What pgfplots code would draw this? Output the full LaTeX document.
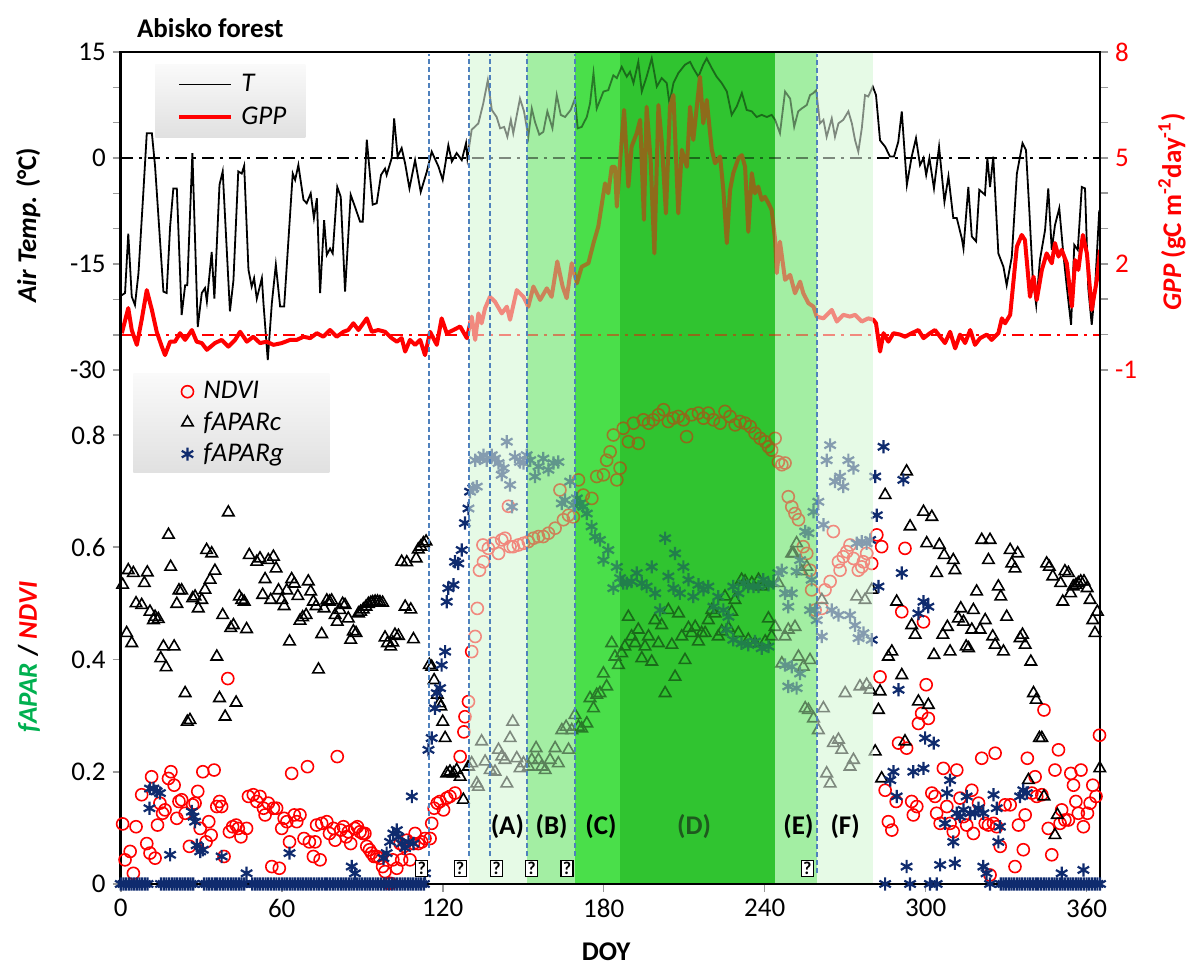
\documentclass[border=0pt]{standalone}
\usepackage{fontspec}
\setmainfont{Carlito}
\usepackage{pgfplots}
\pgfplotsset{compat=1.18}
\definecolor{bandA}{HTML}{E6FAE6}
\definecolor{bandB}{HTML}{A3EEA3}
\definecolor{bandC}{HTML}{4ADF4A}
\definecolor{bandD}{HTML}{30C430}
\definecolor{bandE}{HTML}{A3EEA3}
\definecolor{bandF}{HTML}{E6FAE6}
\definecolor{navyg}{HTML}{0F2B6E}
\definecolor{vblue}{HTML}{4F81BD}
\definecolor{labgreen}{HTML}{00B050}
\definecolor{dlab}{HTML}{1E5A1E}
\newcommand{\fs}{\fontsize{13.5}{15.5}\selectfont}
\pgfplotsset{
  base/.style={
    scale only axis, width=489.65pt, height=416pt,
    xmin=0, xmax=365,
    tick align=outside, major tick length=4pt, minor tick length=4pt,
    tick style={gray!80, line width=0.8pt},
    axis line style={line width=1.25pt, black},
    tick label style={font=\fs},
    /pgf/number format/assume math mode=true,
  }
}
\begin{document}
\begin{tikzpicture}
% ---------------- top panel: air temperature ----------------
\begin{axis}[base,
  hide x axis, axis y line*=left,
  ymin=-102.7, ymax=15,
  ytick={-30,-15,0,15}, minor ytick={-25,-20,-10,-5,5,10},
  legend style={at={(0.035,0.9856)}, anchor=north west, draw=none,
    top color=black!2, bottom color=black!12, font=\fs,
    inner xsep=3pt, inner ysep=3pt, row sep=2pt, legend cell align=left},
  legend image code/.code={\pgfpathrectangle{\pgfpoint{0pt}{-1pt}}{\pgfpoint{38pt}{2pt}}\pgfusepath{use as bounding box}\draw[#1] (9pt,0pt) -- (35pt,0pt);},
]
\fill[bandA] (axis cs:129.8,-102.7) rectangle (axis cs:151.4,15);
\fill[bandB] (axis cs:151.4,-102.7) rectangle (axis cs:169.3,15);
\fill[bandC] (axis cs:169.3,-102.7) rectangle (axis cs:186.1,15);
\fill[bandD] (axis cs:186.1,-102.7) rectangle (axis cs:243.9,15);
\fill[bandE] (axis cs:243.9,-102.7) rectangle (axis cs:259.5,15);
\fill[bandF] (axis cs:259.5,-102.7) rectangle (axis cs:280.4,15);
\addplot[forget plot, black, line width=0.9pt, dash pattern=on 6pt off 3pt on 1.5pt off 3pt] coordinates {(0,0) (365,0)};
\addplot[black, line width=0.9pt] table {
0.4 -19.4
1.6 -19.1
2.8 -10.7
4.1 -19.6
5.3 -20.8
6.6 -16.3
8.4 -5.0
9.7 3.5
11.6 3.5
12.8 -1.2
15.9 -18.9
17.1 -19.1
18.4 -9.7
19.6 -4.3
20.9 -4.3
22.7 -22.2
24.0 -18.0
24.8 -18.0
26.7 0.7
28.7 -23.9
30.2 -19.1
31.4 -18.4
32.1 -20.3
33.9 -13.3
34.9 -19.9
36.8 -3.8
38.0 -1.9
40.7 -21.7
42.0 -17.3
43.8 -1.9
45.1 -2.2
46.0 -1.1
47.6 -15.8
48.8 -18.2
49.7 -17.0
50.7 -19.9
52.6 -17.0
53.2 -20.6
54.8 -28.6
56.3 -20.6
57.8 -15.1
59.4 -21.0
60.9 -21.0
62.5 -11.6
64.1 -2.2
65.0 -3.1
66.2 -1.0
68.1 -5.9
69.3 -6.4
70.8 -5.0
72.0 -8.5
73.1 -5.7
74.3 -19.1
75.8 -8.8
76.8 -13.7
78.0 -12.8
79.0 -13.5
80.7 -4.1
82.0 -5.5
83.6 -18.9
85.7 -5.2
87.3 -6.9
89.2 -9.0
90.2 -9.0
91.7 2.6
93.9 -6.6
95.4 -6.4
97.0 -2.4
98.5 -1.5
99.1 -2.4
101.0 0.0
101.9 5.6
103.2 0.2
104.7 1.4
106.0 -0.8
107.6 -4.3
109.7 -0.3
111.8 -4.8
114.1 -1.9
115.9 0.9
118.4 -1.2
120.0 -3.1
122.1 1.8
123.4 -0.5
125.2 0.7
127.1 -0.3
128.7 2.1
129.2 0.0
130.8 4.0
133.3 4.9
135.1 7.7
136.8 11.0
138.3 6.8
140.1 5.8
141.4 4.2
142.9 4.4
144.1 3.0
145.4 5.4
146.3 3.5
148.8 8.4
150.3 6.6
151.9 3.0
153.2 7.0
154.4 5.1
156.0 3.3
157.5 3.7
159.0 6.6
160.9 4.2
162.5 8.9
164.0 6.1
165.6 5.8
167.7 6.8
169.3 8.4
170.3 4.2
171.8 4.4
173.7 5.8
174.9 7.7
176.2 12.0
177.4 7.0
179.9 9.4
181.7 9.6
183.6 11.7
184.9 11.3
186.7 12.9
188.6 11.5
189.8 12.2
191.1 10.6
192.9 13.6
194.2 9.4
196.0 11.5
197.9 14.1
199.8 10.1
201.6 11.3
203.5 10.6
204.5 7.7
206.0 10.6
207.8 12.0
210.3 13.2
212.2 13.6
213.4 12.7
215.3 11.5
217.1 13.2
218.4 14.1
220.3 12.7
222.1 11.5
224.0 10.6
225.9 9.4
227.7 6.1
229.6 7.3
231.5 9.2
233.3 6.8
235.2 6.6
237.0 5.8
238.9 6.1
240.8 5.8
242.6 6.1
243.9 5.4
245.7 3.5
247.6 9.4
249.5 8.4
251.0 4.4
252.5 6.6
253.8 7.0
255.7 7.5
256.9 8.9
258.2 9.2
259.2 9.6
260.6 4.9
261.9 5.4
263.1 3.0
265.0 5.6
266.2 3.0
267.5 4.9
269.3 5.4
271.2 6.6
272.5 4.9
273.7 2.5
274.9 0.9
276.2 4.2
277.4 8.9
278.6 8.7
280.3 10.1
281.5 8.9
283.0 2.5
284.9 1.6
286.7 0.2
288.2 0.2
289.8 2.3
291.1 6.6
293.0 -3.8
294.8 0.2
296.4 2.8
297.9 -1.0
299.2 0.0
300.2 -2.4
301.4 0.0
303.1 -4.3
305.0 1.6
307.0 -6.2
308.5 -2.6
310.3 -8.5
311.6 -8.5
313.5 -11.4
314.1 -12.8
315.9 -4.1
317.2 -11.1
318.8 -11.8
320.0 -4.5
322.1 -5.2
323.0 0.0
324.0 -4.1
325.2 0.2
327.1 -13.5
329.0 -15.4
330.2 -18.0
332.1 -14.0
334.0 -2.2
336.1 2.1
337.4 1.1
338.7 -7.8
339.9 -16.8
341.2 -20.8
342.6 -14.4
344.5 -10.2
345.7 -4.3
347.0 -13.0
348.2 -9.5
349.8 -7.1
351.3 -13.5
352.6 -18.2
354.2 -23.6
355.4 -12.3
356.7 -13.0
358.2 -4.1
359.4 -4.3
360.6 -18.4
361.9 -23.6
363.1 -18.7
364.7 -7.4
};
\addlegendentry{\makebox[27pt][l]{\textit{T}}}
\addlegendimage{red, line width=2.2pt}
\addlegendentry{\makebox[27pt][l]{\textit{GPP}}}
\end{axis}
% ---------------- top panel: GPP (right axis) ----------------
\begin{axis}[base,
  hide x axis, axis y line*=right,
  ymin=-15.55, ymax=8,
  ytick={-1,2,5,8}, minor ytick={0,1,3,4,6,7},
  yticklabel style={red},
]
\addplot[red, line width=0.9pt, dash pattern=on 6pt off 3pt on 1.5pt off 3pt] coordinates {(0,0) (365,0)};
\addplot[red, line width=2pt, line join=round] table {
0.4 0.04
2.8 0.75
4.1 0.13
6.0 -0.29
7.8 0.42
9.7 1.26
11.6 0.70
13.4 0.08
15.3 -0.34
16.5 -0.58
18.4 -0.20
20.2 -0.20
22.1 0.04
24.0 -0.15
26.5 0.13
28.3 -0.20
30.2 -0.24
32.1 -0.43
35.1 -0.24
37.6 -0.15
40.1 -0.34
42.6 -0.15
44.5 0.08
47.0 -0.20
49.4 -0.06
51.9 -0.24
54.4 -0.20
56.9 -0.29
60.0 -0.24
63.1 -0.15
65.6 -0.15
68.1 -0.06
70.6 -0.10
73.1 0.04
75.5 -0.06
78.0 0.13
80.5 -0.06
83.0 0.08
84.8 0.13
86.7 0.32
88.6 0.13
91.7 0.46
93.6 0.08
96.0 0.13
98.5 0.08
101.0 -0.10
102.9 -0.20
104.7 -0.10
106.0 -0.48
107.8 -0.15
109.7 -0.29
111.6 -0.15
113.4 -0.58
115.3 0.08
117.8 -0.29
119.6 0.46
121.5 0.04
124.0 0.13
126.5 0.23
129.0 -0.10
130.8 0.51
132.1 -0.15
133.3 0.60
134.5 0.32
135.8 0.75
137.6 1.07
139.5 0.93
142.0 0.60
143.9 0.79
145.1 0.42
147.6 1.26
150.1 1.07
151.9 0.79
153.8 1.36
156.3 0.98
158.8 1.31
160.6 1.07
162.7 2.07
164.7 1.36
166.2 1.03
168.1 2.02
170.0 1.45
171.8 1.92
174.3 2.02
176.2 2.59
178.0 3.06
180.5 4.28
181.7 4.00
183.0 4.75
184.2 4.75
184.9 3.62
186.7 5.51
187.6 6.36
189.2 4.19
190.4 5.32
192.3 5.70
193.6 6.08
195.0 3.25
196.0 6.45
197.5 4.94
198.9 2.30
200.4 6.50
201.6 5.51
203.2 3.43
204.7 6.45
206.0 6.78
207.8 3.43
209.1 5.23
211.0 4.75
212.2 6.45
213.4 5.51
214.7 6.45
215.9 7.30
217.1 5.98
218.4 6.64
220.3 5.23
221.5 4.85
223.4 5.04
224.6 4.09
225.9 2.59
227.1 4.09
228.3 4.57
230.2 4.99
231.5 5.08
232.7 4.75
233.9 2.91
235.2 4.57
236.4 4.00
237.6 4.19
238.9 3.81
240.1 3.90
241.4 3.72
242.6 3.53
243.9 2.68
244.5 1.74
245.7 2.63
247.6 1.55
249.5 1.69
251.3 1.17
253.2 1.50
254.4 1.17
256.3 0.89
258.2 0.79
259.4 0.51
261.9 0.46
265.0 0.70
266.9 0.37
269.3 0.56
271.8 0.51
273.7 0.56
276.2 0.37
278.6 0.46
280.5 0.42
281.5 0.32
283.0 -0.48
284.3 0.04
286.1 -0.20
288.0 0.04
290.5 0.00
292.3 -0.06
294.8 0.04
297.3 0.13
299.2 -0.10
301.6 0.04
303.5 0.13
305.4 -0.06
307.2 -0.24
309.1 0.08
311.0 -0.39
312.8 0.00
314.7 -0.24
316.6 0.13
318.4 -0.29
320.3 -0.10
322.8 0.00
324.6 -0.15
327.1 0.04
328.4 0.46
329.6 0.32
331.5 0.56
334.0 2.49
335.8 2.82
337.0 2.68
338.9 1.07
340.2 1.64
341.4 0.98
343.3 1.83
345.1 2.30
347.0 2.02
348.2 2.59
349.5 2.21
350.7 2.40
352.6 2.02
354.5 0.79
355.7 2.11
356.9 1.83
358.6 2.82
360.1 2.30
361.9 0.70
363.8 1.55
365.0 2.40
};
\end{axis}
% ---------------- bottom panel: fAPAR / NDVI ----------------
\begin{axis}[base,
  axis on top, clip=false,
  ymin=0, ymax=1.4824,
  xtick={0,60,...,360}, xtick pos=left, ytick pos=left,
  ytick={0,0.2,0.4,0.6,0.8}, yticklabels={0,0.2,0.4,0.6,0.8},
  legend style={at={(0.0126,0.614)}, anchor=north west, draw=none,
    top color=black!2, bottom color=black!12, font=\fs,
    inner xsep=3pt, inner ysep=2pt, row sep=1pt, legend cell align=left},
  legend image code/.code={\pgfpathrectangle{\pgfpoint{0pt}{-3pt}}{\pgfpoint{30pt}{6pt}}\pgfusepath{use as bounding box}\draw[#1] plot coordinates {(24pt,0pt)};},
]
\addplot[only marks, red, mark=o, mark size=3pt, mark options={line width=0.8pt}] table {
0.7 0.107
1.6 0.043
3.5 0.058
4.7 0.019
5.7 0.102
7.8 0.159
9.7 0.072
10.9 0.055
11.5 0.191
12.8 0.046
13.7 0.105
14.6 0.144
15.6 0.126
16.5 0.132
17.8 0.188
18.7 0.200
19.9 0.176
20.9 0.117
21.7 0.147
22.7 0.150
24.0 0.126
25.6 0.067
26.8 0.141
27.7 0.144
28.7 0.165
29.6 0.099
30.6 0.200
31.8 0.075
32.8 0.111
33.7 0.087
34.8 0.203
35.8 0.138
36.8 0.147
37.6 0.138
38.5 0.049
39.9 0.366
40.5 0.093
41.7 0.102
43.0 0.105
43.8 0.099
44.8 0.084
46.9 0.099
47.6 0.156
49.4 0.159
50.7 0.147
51.9 0.156
53.2 0.135
53.8 0.123
55.0 0.144
56.3 0.031
56.9 0.135
58.1 0.135
59.1 0.028
60.0 0.099
60.9 0.117
61.9 0.111
62.9 0.075
63.7 0.197
64.7 0.123
65.6 0.111
66.8 0.123
68.3 0.081
69.6 0.209
70.3 0.075
71.8 0.049
72.4 0.075
73.0 0.105
74.3 0.043
74.9 0.108
76.8 0.111
77.8 0.090
79.3 0.099
79.9 0.078
80.7 0.227
82.0 0.096
83.0 0.102
84.0 0.084
84.8 0.093
85.7 0.072
87.3 0.099
88.2 0.102
89.2 0.093
90.2 0.090
91.0 0.090
91.7 0.067
92.7 0.061
93.5 0.055
94.4 0.049
95.4 0.049
96.6 0.046
97.6 0.031
98.5 0.022
99.8 0.001
100.6 0.001
101.4 0.043
102.9 0.028
104.1 0.072
104.7 0.043
105.6 0.067
106.6 0.078
107.8 0.043
109.1 0.072
109.7 0.090
110.9 0.072
112.2 0.075
113.4 0.081
115.3 0.081
115.9 0.108
116.8 0.135
118.0 0.144
119.0 0.147
120.3 0.132
121.5 0.153
122.7 0.156
124.6 0.162
126.5 0.227
127.9 0.271
128.3 0.298
129.6 0.325
130.8 0.414
132.1 0.441
132.9 0.491
133.7 0.559
135.2 0.574
135.0 0.604
137.0 0.598
138.9 0.607
140.8 0.589
142.0 0.613
143.2 0.616
144.5 0.673
145.1 0.601
146.3 0.601
148.2 0.604
150.1 0.607
151.9 0.610
153.8 0.616
155.7 0.619
157.5 0.619
159.4 0.625
161.9 0.634
163.7 0.702
165.0 0.649
166.9 0.657
168.7 0.654
170.6 0.720
172.4 0.693
175.6 0.687
177.4 0.726
179.9 0.729
181.1 0.755
182.4 0.770
183.6 0.800
184.9 0.720
186.1 0.741
187.3 0.812
189.2 0.788
191.1 0.821
192.9 0.785
194.8 0.827
196.7 0.821
198.5 0.827
200.4 0.836
202.3 0.845
204.1 0.824
206.0 0.830
207.8 0.833
209.7 0.827
210.9 0.797
212.8 0.836
215.3 0.839
217.2 0.830
219.0 0.839
220.9 0.827
223.4 0.821
225.2 0.842
227.1 0.833
229.0 0.818
230.8 0.824
232.7 0.821
234.6 0.815
236.4 0.803
238.3 0.794
240.2 0.788
241.4 0.779
242.6 0.773
243.9 0.794
245.1 0.752
246.4 0.747
247.6 0.750
248.8 0.690
250.1 0.672
251.3 0.660
252.6 0.649
254.4 0.601
255.7 0.589
256.9 0.559
257.5 0.524
258.8 0.488
261.3 0.491
262.5 0.524
264.4 0.539
265.6 0.628
267.5 0.574
268.1 0.559
269.3 0.583
270.6 0.592
271.8 0.604
273.1 0.580
274.9 0.559
276.2 0.565
276.8 0.574
278.0 0.589
279.9 0.571
281.8 0.622
283.6 0.601
283.0 0.369
284.9 0.167
286.1 0.111
287.4 0.096
289.0 0.147
289.9 0.251
291.1 0.485
292.3 0.598
292.9 0.242
294.8 0.147
295.4 0.123
296.7 0.138
297.3 0.286
298.5 0.304
299.2 0.467
300.2 0.355
301.0 0.295
302.3 0.162
303.5 0.156
304.1 0.126
305.4 0.108
306.6 0.206
307.9 0.138
309.1 0.108
310.3 0.093
311.6 0.203
312.8 0.153
314.1 0.120
315.3 0.105
317.2 0.167
317.8 0.090
319.7 0.144
320.9 0.224
322.2 0.108
323.4 0.105
324.0 0.016
325.3 0.108
325.9 0.233
326.5 0.102
327.8 0.067
329.6 0.141
331.5 0.141
333.3 0.031
334.6 0.105
336.4 0.061
337.1 0.123
337.9 0.224
339.6 0.162
340.8 0.191
341.4 0.156
343.3 0.159
344.1 0.310
345.7 0.099
347.0 0.052
348.2 0.203
349.5 0.239
350.1 0.108
350.7 0.132
351.9 0.114
353.2 0.114
354.1 0.197
355.1 0.176
356.0 0.147
356.9 0.126
357.9 0.203
358.8 0.102
360.3 0.126
361.3 0.144
362.3 0.176
363.5 0.156
364.8 0.265
};
\addlegendentry{\makebox[58pt][l]{\textit{NDVI}}}
\addplot[only marks, black, mark=triangle, mark size=3.3pt, mark options={line width=0.8pt}] table {
0.7 0.533
2.2 0.447
2.8 0.559
4.1 0.429
4.7 0.554
5.7 0.500
7.8 0.497
8.8 0.536
9.9 0.555
10.9 0.485
12.2 0.470
12.8 0.476
14.0 0.472
14.9 0.402
15.9 0.423
16.9 0.386
17.8 0.622
18.6 0.565
19.9 0.423
20.9 0.499
21.7 0.523
22.7 0.523
24.0 0.340
24.8 0.289
25.8 0.292
26.8 0.509
27.7 0.512
28.9 0.491
30.2 0.506
31.4 0.524
32.0 0.595
33.3 0.542
33.9 0.589
35.1 0.558
35.8 0.405
36.8 0.331
38.0 0.479
38.9 0.298
40.1 0.662
41.0 0.456
42.0 0.461
43.0 0.323
44.2 0.512
45.1 0.506
46.0 0.503
46.9 0.454
47.9 0.586
50.7 0.574
51.9 0.580
52.9 0.515
53.8 0.543
55.0 0.577
55.9 0.506
56.9 0.583
57.9 0.562
58.8 0.523
60.0 0.506
60.9 0.495
61.9 0.523
62.9 0.432
63.7 0.543
64.7 0.535
66.0 0.513
66.8 0.469
67.8 0.475
69.1 0.479
69.9 0.539
70.8 0.521
71.8 0.503
72.8 0.495
73.7 0.382
74.9 0.445
75.8 0.491
76.8 0.505
77.8 0.503
78.6 0.505
79.9 0.479
80.7 0.467
81.7 0.488
82.7 0.499
83.6 0.497
84.8 0.473
85.7 0.435
86.7 0.450
87.7 0.447
88.6 0.482
89.4 0.485
90.4 0.489
91.4 0.494
92.3 0.499
93.2 0.501
93.9 0.502
94.8 0.503
95.7 0.503
96.6 0.502
97.6 0.501
98.5 0.439
99.4 0.429
100.6 0.423
101.4 0.430
102.2 0.444
103.5 0.442
104.7 0.574
106.0 0.494
106.6 0.573
108.1 0.489
109.1 0.436
110.1 0.580
110.9 0.596
111.8 0.601
112.8 0.607
113.8 0.610
115.0 0.390
115.9 0.387
116.8 0.363
118.0 0.337
118.8 0.322
119.3 0.316
120.0 0.289
120.9 0.260
121.5 0.197
122.7 0.200
124.0 0.197
125.2 0.203
126.5 0.191
127.7 0.150
129.6 0.209
130.8 0.215
132.7 0.179
133.3 0.173
134.5 0.254
135.8 0.218
137.7 0.203
139.5 0.200
140.8 0.239
142.0 0.227
143.2 0.221
143.9 0.179
145.1 0.260
146.1 0.289
147.6 0.224
148.8 0.206
150.1 0.215
152.0 0.209
153.2 0.221
154.8 0.242
155.7 0.221
156.9 0.209
158.2 0.203
160.0 0.221
161.9 0.242
163.1 0.215
164.4 0.274
166.0 0.280
166.9 0.239
168.1 0.274
169.3 0.301
170.6 0.280
171.8 0.277
173.7 0.286
174.9 0.331
176.2 0.313
177.4 0.337
178.6 0.340
179.9 0.375
181.1 0.352
183.0 0.429
184.2 0.405
185.5 0.390
186.7 0.411
187.9 0.423
189.2 0.476
190.4 0.441
191.7 0.429
192.9 0.453
194.2 0.402
195.4 0.423
196.7 0.441
197.9 0.396
199.1 0.470
200.4 0.429
201.6 0.461
202.9 0.340
204.1 0.488
205.4 0.426
206.6 0.369
207.9 0.482
209.1 0.441
210.3 0.399
211.6 0.456
212.8 0.447
214.1 0.458
215.3 0.432
216.5 0.447
217.8 0.447
219.0 0.470
220.3 0.488
221.5 0.482
222.7 0.441
224.0 0.450
225.2 0.512
226.5 0.456
227.7 0.485
228.9 0.506
230.2 0.447
231.4 0.542
232.7 0.539
233.9 0.435
235.2 0.536
236.4 0.429
237.7 0.542
238.9 0.530
240.2 0.432
241.4 0.473
242.6 0.441
243.9 0.458
245.1 0.536
246.4 0.393
247.6 0.441
248.8 0.453
250.1 0.589
250.7 0.589
251.3 0.458
251.9 0.607
252.6 0.405
253.8 0.557
254.4 0.387
255.1 0.313
255.7 0.565
256.3 0.310
256.9 0.399
258.2 0.295
260.0 0.274
261.3 0.506
261.9 0.313
263.1 0.197
264.4 0.179
265.6 0.251
267.5 0.257
268.7 0.239
270.0 0.340
271.8 0.209
273.1 0.221
274.3 0.512
275.5 0.352
277.4 0.506
278.0 0.355
279.3 0.346
279.9 0.524
281.2 0.236
282.4 0.310
283.0 0.343
283.6 0.188
284.9 0.693
286.1 0.405
287.4 0.414
289.2 0.503
291.1 0.372
292.3 0.254
292.9 0.735
294.2 0.637
294.8 0.461
296.1 0.444
297.3 0.325
299.2 0.663
300.4 0.607
301.0 0.319
302.3 0.654
303.1 0.408
304.1 0.554
305.1 0.604
306.4 0.444
306.9 0.586
308.1 0.458
309.1 0.414
310.3 0.577
310.9 0.559
312.2 0.473
313.1 0.491
314.1 0.467
315.1 0.423
316.0 0.420
317.2 0.453
317.8 0.488
319.0 0.521
320.3 0.453
320.9 0.613
322.2 0.470
323.4 0.577
324.0 0.613
325.0 0.441
325.9 0.426
327.1 0.530
328.0 0.512
329.0 0.414
330.2 0.476
331.5 0.595
332.1 0.571
333.3 0.562
334.3 0.589
335.2 0.438
336.1 0.444
337.1 0.426
338.3 0.185
339.2 0.396
340.2 0.340
341.2 0.328
342.4 0.260
343.3 0.260
344.1 0.156
345.1 0.571
346.1 0.565
347.4 0.548
348.2 0.087
349.1 0.123
350.3 0.536
351.1 0.503
351.9 0.557
353.2 0.554
354.0 0.518
355.0 0.530
356.0 0.533
356.9 0.536
357.8 0.539
359.0 0.539
360.2 0.527
361.3 0.506
362.3 0.470
363.1 0.447
364.0 0.485
364.9 0.206
};
\addlegendentry{\makebox[58pt][l]{\textit{fAPARc}}}
\addplot[only marks, navyg, mark=asterisk, mark size=3.3pt, mark options={line width=1.1pt}] table {
0 0
1 0
2 0
3 0
4 0
5 0
6 0
7 0
8 0
9 0
10 0
15 0
16 0
17 0
18 0
19 0
20 0
21 0
22 0
23 0
24 0
25 0
26 0
27 0
31 0
32 0
33 0
34 0
35 0
36 0
37 0
38 0
39 0
40 0
41 0
42 0
43 0
44 0
45 0
46 0
49 0
50 0
51 0
52 0
53 0
54 0
55 0
56 0
57 0
58 0
59 0
60 0
61 0
62 0
63 0
64 0
65 0
66 0
67 0
68 0
69 0
70 0
71 0
72 0
73 0
74 0
75 0
76 0
77 0
78 0
79 0
80 0
81 0
82 0
83 0
84 0
85 0
86 0
87 0
88 0
89 0
90 0
91 0
92 0
93 0
94 0
95 0
96 0
97 0
98 0
99 0
100 0
101 0
102 0
103 0
104 0
105 0
106 0
107 0
108 0
109 0
110 0
111 0
112 0
113 0
10.7 0.135
10.9 0.170
12.2 0.170
13.4 0.165
14.6 0.162
18.4 0.052
26.5 0.129
27.1 0.120
27.7 0.111
28.3 0.069
29.6 0.058
30.6 0.061
37.6 0.049
46.9 0.019
62.9 0.055
86.1 0.031
87.3 0.019
97.9 0.046
99.1 0.055
100.4 0.075
101.6 0.090
102.9 0.096
103.5 0.084
104.7 0.072
106.0 0.064
107.2 0.075
108.5 0.156
109.1 0.072
113.4 0.019
114.7 0.239
115.9 0.260
117.1 0.313
117.8 0.340
119.0 0.349
119.6 0.390
120.9 0.414
121.5 0.503
122.1 0.527
124.0 0.533
124.6 0.574
125.8 0.571
127.1 0.595
128.3 0.643
129.6 0.669
130.2 0.699
131.4 0.705
132.7 0.708
132.1 0.755
133.9 0.758
135.2 0.764
136.4 0.755
138.3 0.764
139.5 0.758
140.8 0.750
142.0 0.729
143.9 0.788
145.1 0.711
142.7 0.741
145.8 0.672
146.9 0.761
148.8 0.752
150.1 0.750
151.3 0.764
152.6 0.755
154.4 0.726
155.7 0.744
157.5 0.758
159.4 0.738
161.3 0.750
163.1 0.752
164.4 0.678
165.6 0.684
167.5 0.717
168.7 0.675
170.0 0.687
171.2 0.678
172.4 0.672
173.7 0.660
175.5 0.637
176.8 0.619
178.6 0.613
179.9 0.577
181.7 0.595
183.6 0.527
184.9 0.565
186.1 0.545
187.3 0.536
188.6 0.536
190.4 0.539
192.3 0.554
194.2 0.536
196.0 0.530
197.9 0.565
199.2 0.518
201.0 0.488
202.9 0.616
204.1 0.548
206.0 0.527
206.6 0.589
208.4 0.518
209.7 0.565
211.6 0.542
213.4 0.512
215.3 0.533
217.2 0.524
219.0 0.530
220.9 0.494
222.7 0.512
224.6 0.488
226.5 0.476
228.3 0.530
230.2 0.518
232.1 0.536
233.9 0.530
235.8 0.530
237.7 0.530
239.5 0.542
241.4 0.533
243.3 0.536
245.1 0.554
246.4 0.559
247.6 0.518
248.8 0.494
225.8 0.453
228.3 0.435
231.4 0.429
233.9 0.426
236.4 0.432
238.9 0.420
241.4 0.423
247.6 0.390
248.8 0.352
250.1 0.387
250.1 0.518
251.9 0.557
253.2 0.577
255.1 0.628
256.3 0.625
257.5 0.542
258.2 0.663
260.0 0.681
261.9 0.640
263.1 0.755
264.4 0.782
266.2 0.717
268.1 0.726
269.3 0.708
271.2 0.755
273.1 0.741
274.3 0.607
276.2 0.610
278.0 0.607
279.3 0.613
281.2 0.726
281.8 0.657
282.4 0.530
284.3 0.779
251.9 0.349
253.2 0.375
256.9 0.488
258.8 0.488
259.4 0.470
261.3 0.441
265.0 0.488
267.5 0.479
271.8 0.479
273.7 0.461
275.0 0.438
276.8 0.447
279.9 0.435
289.9 0.346
291.1 0.554
291.7 0.720
286.8 0.185
288.0 0.200
289.2 0.156
295.4 0.200
297.3 0.482
299.2 0.503
301.0 0.494
299.2 0.206
299.8 0.260
303.0 0.251
308.0 0.162
309.1 0.185
307.2 0.108
310.3 0.075
311.6 0.126
312.8 0.120
314.1 0.132
315.3 0.156
316.6 0.126
318.4 0.126
319.7 0.135
321.5 0.126
325.3 0.159
326.5 0.135
327.1 0.075
327.7 0.102
335.2 0.156
336.4 0.167
337.7 0.162
292.9 0.031
305.4 0.034
310.9 0.037
321.5 0.031
322.7 0.019
350.7 0.019
358.8 0.025
284.9 0
294.2 0
301.6 0
304.1 0
324.0 0
328 0
329 0
330 0
331 0
332 0
333 0
334 0
335 0
336 0
337 0
338 0
339 0
340 0
341 0
342 0
343 0
344 0
345 0
346 0
347 0
348 0
349 0
350 0
351 0
352 0
353 0
354 0
355 0
356 0
357 0
358 0
359 0
360 0
361 0
362 0
363 0
364 0
365 0
};
\addlegendentry{\makebox[58pt][l]{\textit{fAPARg}}}
\node[anchor=west, font=\fs\bfseries] at (rel axis cs:0.0095,1.0288) {Abisko forest};
\node[rotate=90, font=\fs\bfseries] at (rel axis cs:-0.0945,0.792) {\textit{Air Temp.} (°C)};
\node[rotate=90, font=\fs\bfseries] at (rel axis cs:-0.0936,0.273) {\textcolor{labgreen}{\textit{fAPAR}} / \textcolor{red}{\textit{NDVI}}};
\node[rotate=90, font=\fs\bfseries, text=red] at (rel axis cs:1.0735,0.8077) {\textit{GPP} (gC m\textsuperscript{-2}day\textsuperscript{-1})};
\node[font=\fs\bfseries] at (rel axis cs:0.4956,-0.0817) {DOY};
\coordinate (bbll) at (rel axis cs:-0.1233,-0.101);
\coordinate (bbur) at (rel axis cs:1.0888,1.0625);
\end{axis}
% ---------------- overlay of the phenological phases ----------------
\begin{axis}[base, hide axis, clip=false, ymin=0, ymax=1.4824]
\fill[bandA, fill opacity=0.55] (axis cs:129.8,0.003) rectangle (axis cs:151.4,1.479);
\fill[bandB, fill opacity=0.55] (axis cs:151.4,0.003) rectangle (axis cs:169.3,1.479);
\fill[bandC, fill opacity=0.55] (axis cs:169.3,0.003) rectangle (axis cs:186.1,1.479);
\fill[bandD, fill opacity=0.55] (axis cs:186.1,0.003) rectangle (axis cs:243.9,1.479);
\fill[bandE, fill opacity=0.55] (axis cs:243.9,0.003) rectangle (axis cs:259.5,1.479);
\fill[bandF, fill opacity=0.55] (axis cs:259.5,0.003) rectangle (axis cs:280.4,1.479);
\pgfplotsinvokeforeach{114.9,129.8,137.6,151.4,169.3}{
  \draw[vblue, line width=0.7pt, dash pattern=on 2.5pt off 1.5pt] (axis cs:#1,0.05) -- (axis cs:#1,1.479);
}
\draw[vblue, line width=0.7pt, dash pattern=on 2.5pt off 1.5pt] (axis cs:259.5,0.02) -- (axis cs:259.5,1.479);
\node[font=\fs\bfseries] at (axis cs:144.1,0.102) {(A)};
\node[font=\fs\bfseries] at (axis cs:160.6,0.102) {(B)};
\node[font=\fs\bfseries] at (axis cs:179.0,0.102) {(C)};
\node[font=\fs\bfseries, text=dlab] at (axis cs:213.7,0.102) {(D)};
\node[font=\fs\bfseries] at (axis cs:252.6,0.102) {(E)};
\node[font=\fs\bfseries] at (axis cs:270.0,0.102) {(F)};
\pgfplotsinvokeforeach{112.2,126.5,140.1,153.1,166.3,255.9}{
  \node[draw, line width=0.6pt, inner sep=0.9pt, fill=white, font=\fontsize{9}{9}\selectfont\bfseries] at (axis cs:#1,0.027) {?};
}
\end{axis}
\pgfresetboundingbox
\path (bbll) rectangle (bbur);
\end{tikzpicture}
\end{document}
